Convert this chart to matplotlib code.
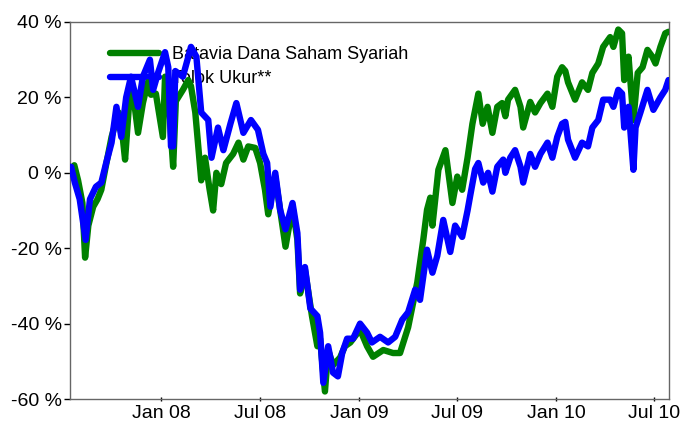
import numpy as np
import pandas as pd
import matplotlib
matplotlib.use('Agg')
import matplotlib.pyplot as plt
import matplotlib.dates as mdates
from matplotlib.ticker import FuncFormatter

plt.rcParams['font.family'] = ['Liberation Sans', 'DejaVu Sans']

# Batavia Dana Saham Syariah (cumulative return, %)
fund_dates = ['2007-07-16', '2007-07-24', '2007-07-31', '2007-08-08', '2007-08-13', '2007-08-19',
              '2007-08-28', '2007-09-05', '2007-09-12', '2007-09-20', '2007-10-01', '2007-10-14',
              '2007-10-19', '2007-10-26', '2007-11-02', '2007-11-09', '2007-11-19', '2007-11-28',
              '2007-12-07', '2007-12-13', '2007-12-22', '2008-01-04', '2008-01-08', '2008-01-14',
              '2008-01-19', '2008-01-23', '2008-01-28', '2008-02-10', '2008-02-20', '2008-02-25',
              '2008-03-04', '2008-03-15', '2008-03-22', '2008-03-30', '2008-04-06', '2008-04-12',
              '2008-04-21', '2008-04-30', '2008-05-13', '2008-05-23', '2008-06-01', '2008-06-10',
              '2008-06-23', '2008-07-02', '2008-07-11', '2008-07-17', '2008-07-30', '2008-08-18',
              '2008-08-31', '2008-09-09', '2008-09-14', '2008-09-23', '2008-10-06', '2008-10-16',
              '2008-10-21', '2008-10-30', '2008-11-05', '2008-11-14', '2008-11-27', '2008-12-06',
              '2008-12-16', '2009-01-03', '2009-01-16', '2009-01-27', '2009-02-15', '2009-03-05',
              '2009-03-18', '2009-04-02', '2009-04-19', '2009-04-30', '2009-05-07', '2009-05-13',
              '2009-05-17', '2009-05-28', '2009-06-10', '2009-06-23', '2009-07-02', '2009-07-11',
              '2009-07-21', '2009-07-30', '2009-08-10', '2009-08-18', '2009-08-27', '2009-09-05',
              '2009-09-14', '2009-09-23', '2009-09-29', '2009-10-04', '2009-10-17', '2009-10-27',
              '2009-11-01', '2009-11-14', '2009-11-23', '2009-12-03', '2009-12-16', '2009-12-25',
              '2010-01-03', '2010-01-12', '2010-01-18', '2010-01-23', '2010-02-05', '2010-02-18',
              '2010-03-01', '2010-03-09', '2010-03-20', '2010-03-29', '2010-04-11', '2010-04-17',
              '2010-04-26', '2010-05-03', '2010-05-07', '2010-05-15', '2010-05-24', '2010-06-01',
              '2010-06-10', '2010-06-19', '2010-06-28', '2010-07-04', '2010-07-13', '2010-07-22',
              '2010-07-28']
fund_vals = [0, 2, -2, -8, -22.5, -14,
             -9, -7, -4.5, 1.5, 9.5, 16,
             13, 3.5, 17.5, 22, 10.6, 18.5,
             24, 20.7, 21, 9.5, 25.5, 24,
             10, 1.6, 19, 22, 24.6, 23,
             16, -2, 4, -4, -10, 0,
             -3, 2.6, 5, 8, 3.5, 7,
             6.6, 2.6, -4.5, -11, -1, -19.6,
             -9, -17.8, -32, -25.7, -38, -46,
             -44, -58, -47, -51, -49, -46,
             -45, -41.6, -46, -48.8, -47, -47.8,
             -47.8, -41, -29, -17.8, -9.8, -6.6,
             -14, 0.8, 6, -8, -1, -4.5,
             4, 13, 21, 13, 17.5, 10.6,
             17.5, 18.5, 15, 19.4, 22, 17.5,
             12, 18.8, 16, 18.5, 21, 17.5,
             25.5, 28, 27, 24, 19.4, 24,
             22, 26.5, 29, 33.4, 36, 33.4,
             38, 37, 24.6, 30.8, 14, 26.5,
             28, 32.6, 30.8, 29, 33.4, 37,
             37.4]

# Tolok Ukur** (benchmark, %)
bench_dates = ['2007-07-16', '2007-07-18', '2007-07-25', '2007-08-03', '2007-08-14', '2007-08-22',
               '2007-09-02', '2007-09-12', '2007-09-21', '2007-10-01', '2007-10-10', '2007-10-19',
               '2007-10-28', '2007-11-06', '2007-11-19', '2007-11-28', '2007-12-11', '2007-12-17',
               '2007-12-26', '2008-01-08', '2008-01-14', '2008-01-19', '2008-01-23', '2008-01-27',
               '2008-02-10', '2008-02-25', '2008-03-06', '2008-03-15', '2008-03-28', '2008-04-03',
               '2008-04-15', '2008-04-25', '2008-05-08', '2008-05-19', '2008-06-01', '2008-06-15',
               '2008-06-28', '2008-07-08', '2008-07-15', '2008-07-21', '2008-07-30', '2008-08-08',
               '2008-08-18', '2008-08-31', '2008-09-09', '2008-09-14', '2008-09-23', '2008-10-03',
               '2008-10-16', '2008-10-21', '2008-10-27', '2008-11-05', '2008-11-14', '2008-11-23',
               '2008-12-01', '2008-12-10', '2008-12-21', '2009-01-03', '2009-01-16', '2009-01-25',
               '2009-02-09', '2009-02-24', '2009-03-09', '2009-03-22', '2009-04-02', '2009-04-15',
               '2009-04-24', '2009-05-07', '2009-05-17', '2009-05-26', '2009-06-06', '2009-06-19',
               '2009-06-28', '2009-07-11', '2009-07-21', '2009-07-26', '2009-08-04', '2009-08-10',
               '2009-08-19', '2009-08-28', '2009-09-05', '2009-09-14', '2009-09-25', '2009-09-29',
               '2009-10-08', '2009-10-17', '2009-10-27', '2009-11-01', '2009-11-14', '2009-11-23',
               '2009-12-03', '2009-12-16', '2009-12-25', '2010-01-03', '2010-01-12', '2010-01-18',
               '2010-01-23', '2010-02-05', '2010-02-18', '2010-03-01', '2010-03-09', '2010-03-20',
               '2010-03-29', '2010-04-11', '2010-04-17', '2010-04-26', '2010-05-03', '2010-05-07',
               '2010-05-15', '2010-05-24', '2010-05-28', '2010-06-06', '2010-06-19', '2010-06-30',
               '2010-07-13', '2010-07-22', '2010-07-28']
bench_vals = [0, 1.6, -2.6, -7, -17.8, -7,
              -3.7, -2.6, 2.6, 8, 17.5, 9.5,
              20, 25.5, 17.5, 25.5, 30, 22,
              26.5, 32, 28, 7, 7, 27,
              25.5, 33.4, 30.8, 16, 14, 4,
              12, 6, 13, 18.5, 10.6, 14,
              11.4, 5, 2.6, -9, 0, -9.8,
              -15, -8, -16, -31, -25, -36,
              -38, -42.4, -55.7, -46, -53, -54,
              -47.8, -44, -44, -40, -42.4, -45,
              -43.5, -45, -43.5, -39, -37, -31,
              -33.7, -20.4, -26.5, -22, -12.5, -21,
              -14, -17, -10, -6, 1, 2.6,
              -2.6, 0, -5, 1.6, 3.5, 0,
              4, 6, 1.6, -2.6, 5, 1.6,
              5, 8, 4, 9.5, 13, 13.5,
              8.8, 4, 8, 7, 12, 14,
              19.4, 19.4, 17.5, 22, 21, 12,
              17.5, 0.8, 12, 16, 22, 16.7,
              20, 22, 24.6]

fund = pd.Series(fund_vals, index=pd.to_datetime(fund_dates))
bench = pd.Series(bench_vals, index=pd.to_datetime(bench_dates))

fig = plt.figure(figsize=(6.82, 4.23), dpi=100)
ax = fig.add_axes([0.1026, 0.0567, 0.8784, 0.8913])

lw = 4.6
ax.plot(fund.index, fund.values, color='#008000', lw=lw, solid_capstyle='round',
        solid_joinstyle='round', label='Batavia Dana Saham Syariah', zorder=3)
ax.plot(bench.index, bench.values, color='#0000ff', lw=lw, solid_capstyle='round',
        solid_joinstyle='round', label='Tolok Ukur**', zorder=4)

ax.set_ylim(-60, 40)
ax.set_yticks([-60, -40, -20, 0, 20, 40])
ax.yaxis.set_major_formatter(FuncFormatter(lambda v, p: '%d %%' % v))
ax.set_xlim(pd.Timestamp('2007-07-16'), pd.Timestamp('2010-07-29'))
ax.set_xticks(pd.to_datetime(['2008-01-01', '2008-07-01', '2009-01-01',
                              '2009-07-01', '2010-01-01', '2010-07-01']))
ax.xaxis.set_major_formatter(mdates.DateFormatter('%b %y'))

for s in ax.spines.values():
    s.set_color('#666666')
    s.set_linewidth(1.0)
ax.tick_params(axis='y', length=4, width=1, direction='out', labelsize=14, pad=2, color='#000000')
ax.tick_params(axis='x', length=3, width=1, direction='inout', labelsize=14, pad=3, color='#000000')

leg = ax.legend(loc='upper left', bbox_to_anchor=(0.055, 0.955), frameon=False, fontsize=13,
                handlelength=2.7, handletextpad=0.75, labelspacing=0.38, borderaxespad=0)
# in the original the data lines run over the legend
leg.set_zorder(2)

fig.savefig('out.png', dpi=100)
